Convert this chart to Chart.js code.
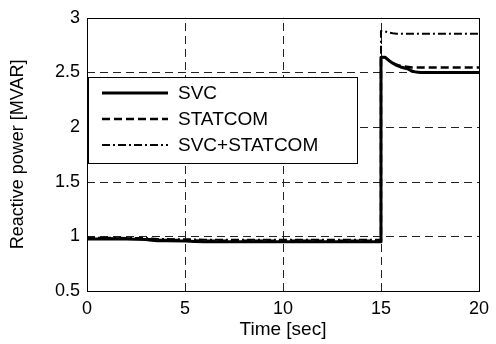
<!DOCTYPE html>
<html>
<head>
<meta charset="utf-8">
<script src="https://cdn.jsdelivr.net/npm/chart.js@4/dist/chart.umd.min.js"></script>
<style>
  html, body { margin: 0; padding: 0; background: #fff; }
  #wrap { width: 496px; height: 344px; }
</style>
</head>
<body>
<div id="wrap"><canvas id="myChart" width="496" height="344"></canvas></div>
<script>
// time axis (sec), the jump at 15 s is listed twice
var timeSec = [0, 1, 2, 3, 3.3, 3.6, 4, 5, 5.5, 6, 7, 8, 9, 10, 11, 12, 13, 14, 15, 15,
	15.2, 15.4, 15.6, 15.8, 16, 16.2, 16.4, 16.6, 16.8, 17, 18, 19, 20];

var svcValues = [0.975, 0.975, 0.975, 0.972, 0.965, 0.96, 0.96, 0.958, 0.952, 0.95,
	0.95, 0.95, 0.95, 0.95, 0.95, 0.95, 0.95, 0.95, 0.95, 2.64,
	2.64, 2.61, 2.585, 2.565, 2.55, 2.54, 2.53, 2.51, 2.503, 2.5, 2.5, 2.5, 2.5];

var statcomValues = [0.982, 0.982, 0.98, 0.978, 0.972, 0.968, 0.967, 0.965, 0.962, 0.96,
	0.96, 0.96, 0.96, 0.96, 0.96, 0.96, 0.96, 0.96, 0.96, 2.64,
	2.64, 2.61, 2.585, 2.57, 2.56, 2.555, 2.55, 2.545, 2.545, 2.545, 2.545, 2.545, 2.545];

var bothValues = [0.988, 0.988, 0.986, 0.985, 0.98, 0.976, 0.975, 0.974, 0.972, 0.97,
	0.97, 0.97, 0.97, 0.97, 0.97, 0.97, 0.97, 0.97, 0.97, 2.88,
	2.875, 2.865, 2.858, 2.855, 2.855, 2.855, 2.855, 2.855, 2.855, 2.855, 2.855, 2.855, 2.855];

var seriesLabels = ['SVC', 'STATCOM', 'SVC+STATCOM'];
var xTicks = [0, 5, 10, 15, 20];
var yTicks = [0.5, 1, 1.5, 2, 2.5, 3];

var FONT = 'Arial, "Liberation Sans", sans-serif';

function toPoints(values) {
	var pts = [];
	for (var i = 0; i < timeSec.length; i++) {
		pts.push({ x: timeSec[i], y: values[i] });
	}
	return pts;
}

// dashed grid, full plot box and the legend inside the plot, matlab style
var boxPlugin = {
	id: 'boxPlugin',
	beforeDatasetsDraw: function(chart) {
		var a = chart.chartArea;
		var ctx = chart.ctx;
		var xs = chart.scales.x, ys = chart.scales.y;
		ctx.save();
		ctx.strokeStyle = '#222';
		ctx.lineWidth = 1;
		ctx.setLineDash([8, 5]);
		for (var i = 1; i < xTicks.length - 1; i++) {
			var px = Math.round(xs.getPixelForValue(xTicks[i])) + 0.5;
			ctx.beginPath();
			ctx.moveTo(px, a.bottom);
			ctx.lineTo(px, a.top);
			ctx.stroke();
		}
		for (var j = 1; j < yTicks.length - 1; j++) {
			var py = Math.round(ys.getPixelForValue(yTicks[j])) + 0.5;
			ctx.beginPath();
			ctx.moveTo(a.left, py);
			ctx.lineTo(a.right, py);
			ctx.stroke();
		}
		ctx.setLineDash([]);
		ctx.strokeStyle = '#000';
		ctx.strokeRect(Math.round(a.left) + 0.5, Math.round(a.top) + 0.5,
			Math.round(a.right - a.left), Math.round(a.bottom - a.top));
		ctx.restore();
	},
	afterDraw: function(chart) {
		var ctx = chart.ctx;
		var ds = chart.data.datasets;
		var left = 88, top = 77, w = 269, h = 86;
		ctx.save();
		ctx.fillStyle = '#fff';
		ctx.fillRect(left, top, w, h);
		ctx.strokeStyle = '#000';
		ctx.lineWidth = 1;
		ctx.strokeRect(left + 0.5, top + 0.5, w, h);
		var rows = [93, 119, 145];
		for (var i = 0; i < ds.length; i++) {
			ctx.beginPath();
			ctx.setLineDash(ds[i].borderDash || []);
			ctx.lineWidth = ds[i].borderWidth;
			ctx.strokeStyle = ds[i].borderColor;
			ctx.moveTo(102, rows[i]);
			ctx.lineTo(168, rows[i]);
			ctx.stroke();
			ctx.setLineDash([]);
			ctx.fillStyle = '#000';
			ctx.font = '19px ' + FONT;
			ctx.textBaseline = 'middle';
			ctx.fillText(ds[i].label, 178, rows[i] + 1);
		}
		ctx.restore();
	}
};

var ctx = document.getElementById('myChart').getContext('2d');
var myChart = new Chart(ctx, {
	type: 'line',
	data: {
		datasets: [
			{ label: seriesLabels[0], data: toPoints(svcValues), borderColor: '#000', borderWidth: 3, borderDash: [] },
			{ label: seriesLabels[1], data: toPoints(statcomValues), borderColor: '#000', borderWidth: 2.5, borderDash: [8, 4] },
			{ label: seriesLabels[2], data: toPoints(bothValues), borderColor: '#000', borderWidth: 2, borderDash: [8, 3, 2, 3] }
		]
	},
	options: {
		responsive: false,
		animation: false,
		devicePixelRatio: 1,
		elements: {
			point: { radius: 0 },
			line: { tension: 0, fill: false, borderJoinStyle: 'round' }
		},
		layout: { padding: { left: 3, top: 15, right: 15, bottom: 3 } },
		plugins: { legend: { display: false }, tooltip: { enabled: false } },
		scales: {
			x: {
				type: 'linear',
				min: 0, max: 20,
				afterBuildTicks: function(scale) {
					scale.ticks = xTicks.map(function(v) { return { value: v }; });
				},
				afterFit: function(scale) { scale.height = 50; },
				grid: { display: false, drawTicks: false },
				border: { display: false },
				ticks: {
					color: '#000', padding: 7, maxRotation: 0, font: { family: FONT, size: 18 },
					callback: function(v) { return String(v); }
				},
				title: { display: true, text: 'Time [sec]', color: '#000', padding: { top: 2, bottom: 0 }, font: { family: FONT, size: 19 } }
			},
			y: {
				type: 'linear',
				min: 0.5, max: 3,
				afterBuildTicks: function(scale) {
					scale.ticks = yTicks.map(function(v) { return { value: v }; });
				},
				afterFit: function(scale) { scale.width = 84; },
				grid: { display: false, drawTicks: false },
				border: { display: false },
				ticks: {
					color: '#000', padding: 7, font: { family: FONT, size: 18 },
					callback: function(v) { return String(v); }
				},
				title: { display: true, text: 'Reactive power [MVAR]', color: '#000', padding: { top: 4, bottom: 0 }, font: { family: FONT, size: 18 } }
			}
		}
	},
	plugins: [boxPlugin]
});
</script>
</body>
</html>
